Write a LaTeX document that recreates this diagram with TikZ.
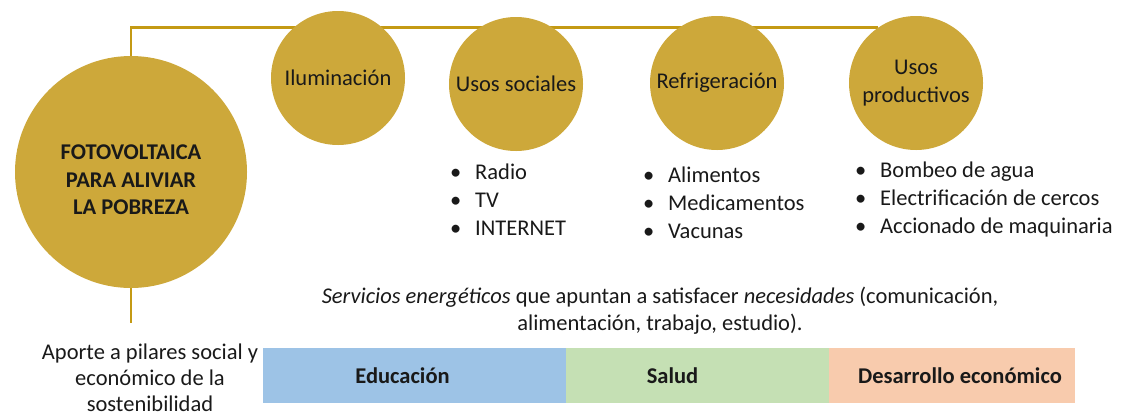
\documentclass[tikz,border=0pt]{standalone}
\usepackage{fontspec}
\setmainfont{Carlito}
\usetikzlibrary{backgrounds}
\definecolor{gold}{HTML}{CDA83A}
\definecolor{goldline}{HTML}{C49A14}
\definecolor{edublue}{HTML}{9DC3E6}
\definecolor{saludgreen}{HTML}{C5E0B4}
\definecolor{desorange}{HTML}{F8CBAD}
\newcommand{\itm}[1]{\makebox[25pt][l]{\textbullet}#1}

\begin{document}
\begin{tikzpicture}[x=1pt,y=-1pt,
  every node/.style={font=\fontsize{22.5}{28}\selectfont,text=black!90},
  usecirc/.style={circle,fill=gold,minimum size=134pt,inner sep=0pt,align=center},
  itemlist/.style={anchor=west,align=left,inner sep=0pt,font=\fontsize{22.5}{28}\selectfont},
  pillar/.style={rectangle,minimum height=55pt,inner sep=0pt,font=\fontsize{22.5}{27}\selectfont\bfseries},
  conn/.style={goldline,line width=2.5pt}]
  \useasboundingbox (0,0) rectangle (1126,416);
  \node[circle,fill=gold,minimum size=232pt,inner sep=0pt,align=center,
        font=\fontsize{22.5}{27.5}\selectfont\bfseries] (fv) at (131,172)
        {\mbox{}\\[3pt]FOTOVOLTAICA\\PARA ALIVIAR\\LA POBREZA};
  \node[usecirc] (ilum) at (338,78) {Iluminación};
  \node[usecirc] (soc)  at (516,84) {Usos sociales};
  \node[usecirc] (refr) at (717,83) {Refrigeración};
  \node[usecirc] (prod) at (916,83) {Usos\\productivos};
  \coordinate (fvend) at (131,323);
  \begin{pgfonlayer}{background}
    \draw[conn] (fv.north) |- (prod.124);
    \draw[conn] (fv.south) -- (fvend);
  \end{pgfonlayer}
  % listas de servicios
  \node[itemlist] (socl)  at (450,200) {\itm{Radio}\\\itm{TV}\\\itm{INTERNET}};
  \node[itemlist] (refrl) at (643,203) {\itm{Alimentos}\\\itm{Medicamentos}\\\itm{Vacunas}};
  \node[itemlist] (prodl) at (855,199) {\itm{Bombeo de agua}\\\itm{Electrificación de cercos}\\\itm{Accionado de maquinaria}};
  \node[align=center,font=\fontsize{22.5}{27}\selectfont] (serv) at (660,311)
    {\textit{Servicios energéticos} que apuntan a satisfacer \textit{necesidades} (comunicación,\\alimentación, trabajo, estudio).};
  \node[align=center,font=\fontsize{22.5}{26}\selectfont] (aporte) at (150,378)
    {Aporte a pilares social y\\económico de la\\sostenibilidad};
  % pilares
  \node[pillar,fill=edublue,minimum width=303pt]    (edu) at (414.5,375.5) {\hspace*{-24pt}Educación};
  \node[pillar,fill=saludgreen,minimum width=263pt] (sal) at (697.5,375.5) {\hspace*{-50pt}Salud};
  \node[pillar,fill=desorange,minimum width=246pt]  (des) at (952,375.5)   {\hspace*{16pt}Desarrollo económico};
\end{tikzpicture}
\end{document}
